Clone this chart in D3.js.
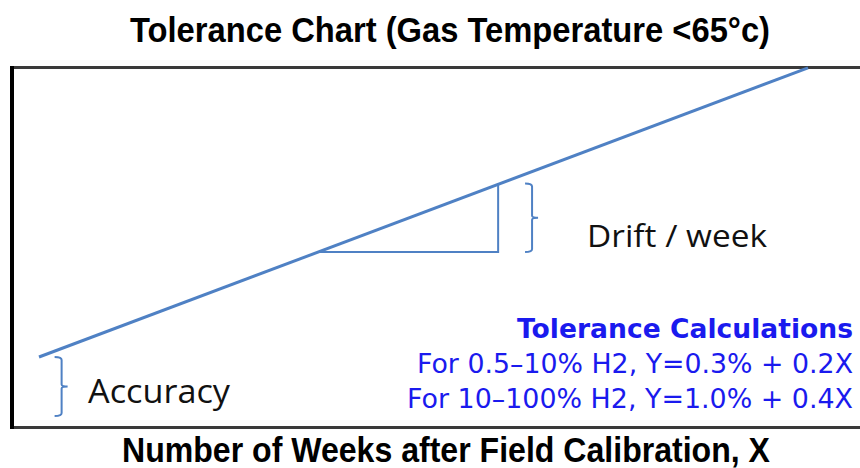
<!DOCTYPE html>
<html>
<head>
<meta charset="utf-8">
<script src="https://cdn.jsdelivr.net/npm/d3@7"></script>
<style>
  body { margin: 0; background: #fff; }
  svg { display: block; }
</style>
</head>
<body>
<div id="chart"></div>
<script>
// chart texts
var titleText = "Tolerance Chart (Gas Temperature <65°c)";
var xTitle = "Number of Weeks after Field Calibration, X";
var calcLines = ["Tolerance Calculations",
                 "For 0.5–10% H2, Y=0.3% + 0.2X",
                 "For 10–100% H2, Y=1.0% + 0.4X"];
var calcWidths = [336, 436, 446];

// tolerance line (weeks, tolerance units)
var lineWeeks = [0, 17];
var lineTol = [1.0, 5.9];

// drift triangle, one step along the line
var triWeeks = [6.15, 10.15];
var triTol = [2.78, 3.94];

// accuracy bracket: from 0 up to the line start
var accWeek = 0.5;
var accRange = [0, 1.0];
var driftWeek = 10.9;

var width = 860, height = 468;

var svg = d3.select("#chart")
  .append("svg")
    .attr("width", width)
    .attr("height", height);

var x = d3.scaleLinear()
  .domain([0, 17])
  .range([39, 808]);

var y = d3.scaleLinear()
  .domain([0, 6])
  .range([416, 62]);

// plot frame
svg.append("line")
  .attr("x1", 11).attr("x2", 870)
  .attr("y1", 67.5).attr("y2", 67.5)
  .attr("stroke", "#3a3a3a").attr("stroke-width", 3);
svg.append("line")
  .attr("x1", 11).attr("x2", 870)
  .attr("y1", 427.5).attr("y2", 427.5)
  .attr("stroke", "#3a3a3a").attr("stroke-width", 3);
svg.append("line")
  .attr("x1", 12).attr("x2", 12)
  .attr("y1", 66).attr("y2", 429)
  .attr("stroke", "#000").attr("stroke-width", 4);

var blue = "#4f81c4";

// tolerance line
var pts = lineWeeks.map(function(d, i) { return [d, lineTol[i]]; });
svg.append("path")
  .datum(pts)
  .attr("fill", "none")
  .attr("stroke", blue)
  .attr("stroke-width", 3)
  .attr("d", d3.line()
    .x(function(d) { return x(d[0]); })
    .y(function(d) { return y(d[1]); }));

// drift triangle (horizontal + vertical legs)
svg.append("path")
  .attr("fill", "none")
  .attr("stroke", blue)
  .attr("stroke-width", 2)
  .attr("d", "M" + x(triWeeks[0]) + "," + y(triTol[0]) +
             "H" + x(triWeeks[1]) +
             "V" + y(triTol[1]));

// bracket with a middle tick
function bracket(xw, t0, t1) {
  var bx = x(xw), top = y(t1), bot = y(t0), mid = (top + bot) / 2;
  return "M" + (bx - 7) + "," + top +
         "Q" + bx + "," + top + " " + bx + "," + (top + 3) +
         "V" + (mid - 2) +
         "Q" + bx + "," + mid + " " + (bx + 6) + "," + mid +
         "Q" + bx + "," + mid + " " + bx + "," + (mid + 2) +
         "V" + (bot - 3) +
         "Q" + bx + "," + bot + " " + (bx - 7) + "," + bot;
}

svg.append("path")
  .attr("fill", "none")
  .attr("stroke", blue)
  .attr("stroke-width", 2)
  .attr("d", bracket(accWeek, accRange[0], accRange[1]));

svg.append("path")
  .attr("fill", "none")
  .attr("stroke", blue)
  .attr("stroke-width", 2)
  .attr("d", bracket(driftWeek, triTol[0], triTol[1]));

// annotation labels
svg.append("text")
  .attr("x", 587).attr("y", 247)
  .style("font-family", "'Open Sans', sans-serif")
  .style("font-size", "31px")
  .attr("textLength", 180)
  .attr("lengthAdjust", "spacingAndGlyphs")
  .attr("fill", "#111")
  .text("Drift / week");

svg.append("text")
  .attr("x", 88).attr("y", 403)
  .style("font-family", "'Open Sans', sans-serif")
  .style("font-size", "32px")
  .attr("textLength", 142)
  .attr("lengthAdjust", "spacingAndGlyphs")
  .attr("fill", "#111")
  .text("Accuracy");

// tolerance calculations
svg.append("g")
  .selectAll("text")
  .data(calcLines)
  .enter()
  .append("text")
    .attr("x", 853)
    .attr("y", function(d, i) { return 338 + i * 35; })
    .attr("text-anchor", "end")
    .attr("textLength", function(d, i) { return calcWidths[i]; })
    .attr("lengthAdjust", "spacingAndGlyphs")
    .style("font-family", "'DejaVu Sans', sans-serif")
    .style("font-size", "26px")
    .style("font-weight", function(d, i) { return i === 0 ? "bold" : "normal"; })
    .attr("fill", "#1a1aee")
    .text(function(d) { return d; });

// title
svg.append("text")
  .attr("x", 450).attr("y", 42)
  .attr("text-anchor", "middle")
  .attr("textLength", 640)
  .attr("lengthAdjust", "spacingAndGlyphs")
  .style("font-family", "'Liberation Sans', sans-serif")
  .style("font-weight", "bold")
  .style("font-size", "35px")
  .attr("fill", "#000")
  .text(titleText);

// x axis title
svg.append("text")
  .attr("x", 446).attr("y", 462)
  .attr("text-anchor", "middle")
  .attr("textLength", 648)
  .attr("lengthAdjust", "spacingAndGlyphs")
  .style("font-family", "'Liberation Sans', sans-serif")
  .style("font-weight", "bold")
  .style("font-size", "35px")
  .attr("fill", "#000")
  .text(xTitle);
</script>
</body>
</html>
